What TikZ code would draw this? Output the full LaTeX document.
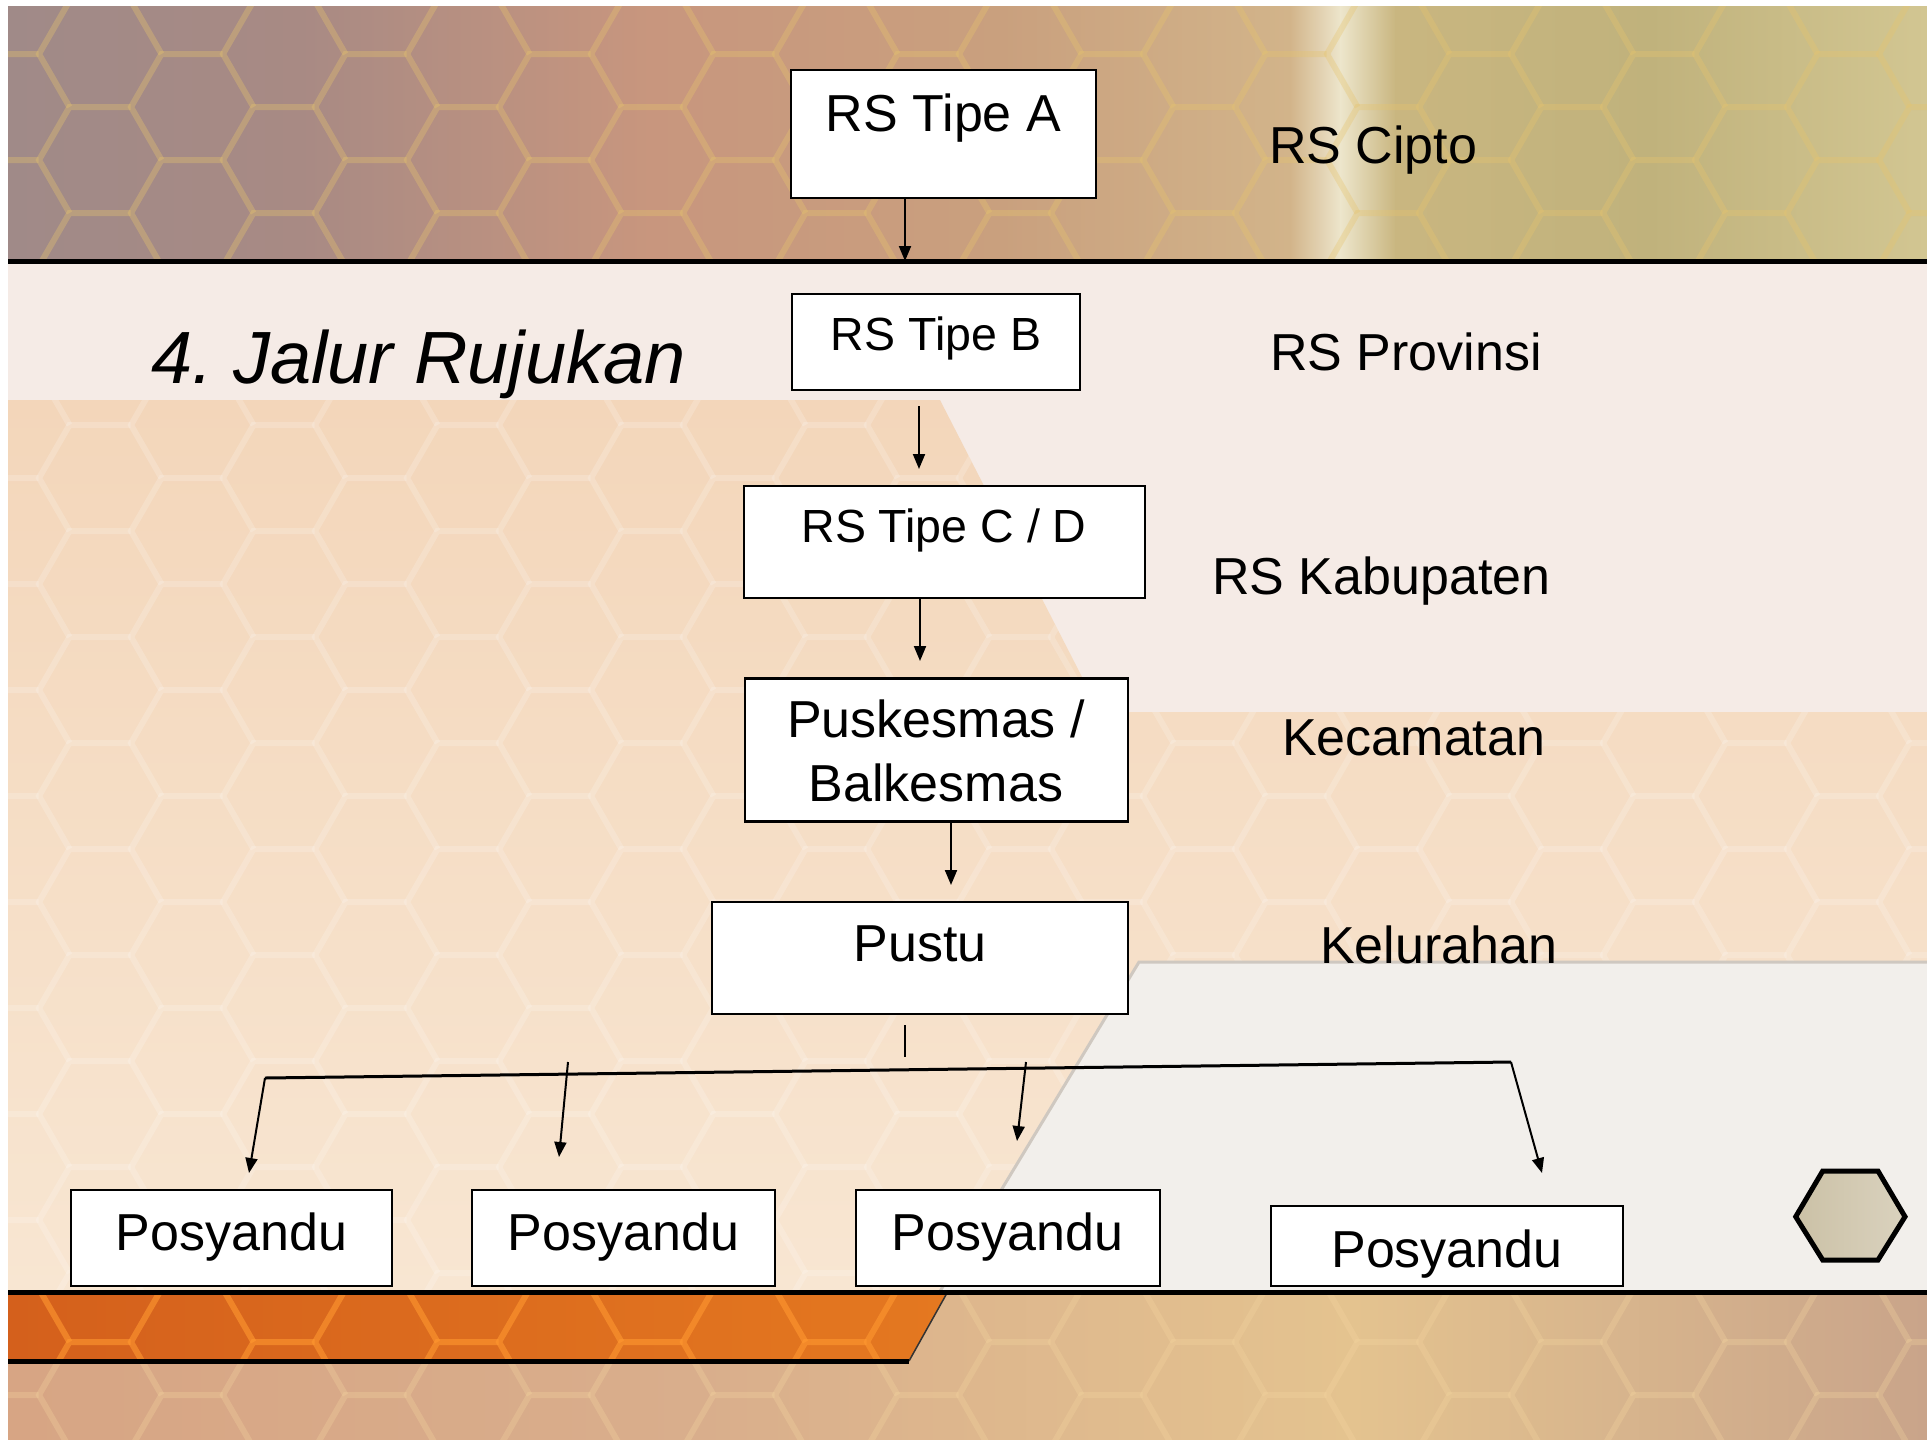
\documentclass[tikz,border=0pt]{standalone}
\usepackage{fontspec}
\setmainfont{Liberation Sans}
\usetikzlibrary{arrows.meta,calc}
\definecolor{midbase}{HTML}{F5EBE6}
\definecolor{peachtop}{HTML}{F3D6BA}
\definecolor{peachbot}{HTML}{F8E6D2}
\definecolor{greypara}{HTML}{F2EFEB}
\definecolor{greyedge}{HTML}{CFC8C0}
\definecolor{orleft}{HTML}{D4601C}
\definecolor{orright}{HTML}{E47820}
\definecolor{hexbeige}{HTML}{CBC1A6}
\definecolor{hexbeigeb}{HTML}{DAD2BE}
\newcommand{\myhoneycomb}[4]{%
  \foreach \k in {-1,...,21}{%
    \foreach \j in {#3,...,#4}{%
      \pgfmathsetmacro{\cx}{#1+92*\k}%
      \pgfmathsetmacro{\cy}{#2+106*\j+53*mod(abs(\k),2)}%
      \draw[shift={(\cx,\cy)}] (30.5,-53) -- (-30.5,-53) -- (-61,0) -- (-30.5,53);%
    }%
  }%
}
\begin{document}
\begin{tikzpicture}[x=1pt,y=-1pt,
  box/.style={draw=black,fill=white,line width=2.5pt,inner sep=0pt,rectangle},
  lab/.style={font=\fontsize{52}{64}\selectfont,inner sep=0pt,anchor=base,align=center},
  labsm/.style={font=\fontsize{46.5}{56}\selectfont,inner sep=0pt,anchor=base},
  side/.style={font=\fontsize{52}{64}\selectfont,inner sep=0pt,anchor=base west},
  arr/.style={line width=2pt,-{Triangle[length=15pt,width=12pt]}},
  plain/.style={line width=2pt}]
\useasboundingbox (0,0) rectangle (1927,1441);
\fill[white] (0,0) rectangle (1927,1441);
% ---------- middle area ----------
\fill[midbase] (8,261) rectangle (1927,1293);
\path[top color=peachtop,bottom color=peachbot] (8,400) -- (940,400) -- (1100,712) -- (1927,712) -- (1927,962) -- (1139,962) -- (939,1293) -- (8,1293) -- cycle;
\begin{scope}
  \clip (8,400) -- (940,400) -- (1100,712) -- (1927,712) -- (1927,962) -- (1139,962) -- (939,1293) -- (8,1293) -- cycle;
  \begin{scope}[draw=white,draw opacity=0.18,line width=6pt]
    \myhoneycomb{100}{54}{2}{12}
  \end{scope}
\end{scope}
\fill[greypara] (1139,962) -- (1927,962) -- (1927,1293) -- (939,1293) -- cycle;
\draw[greyedge,line width=3pt] (939,1293) -- (1139,962) -- (1927,962);
% ---------- top band ----------
\shade[left color={rgb,255:red,160;green,138;blue,136},right color={rgb,255:red,168;green,138;blue,132}] (8,6) rectangle (301,261);
\shade[left color={rgb,255:red,168;green,138;blue,132},right color={rgb,255:red,200;green,150;blue,126}] (300,6) rectangle (651,261);
\shade[left color={rgb,255:red,200;green,150;blue,126},right color={rgb,255:red,201;green,160;blue,126}] (650,6) rectangle (1001,261);
\shade[left color={rgb,255:red,201;green,160;blue,126},right color={rgb,255:red,210;green,180;blue,138}] (1000,6) rectangle (1291,261);
\shade[left color={rgb,255:red,210;green,180;blue,138},right color={rgb,255:red,237;green,230;blue,204}] (1290,6) rectangle (1341,261);
\shade[left color={rgb,255:red,237;green,230;blue,204},right color={rgb,255:red,201;green,182;blue,128}] (1340,6) rectangle (1396,261);
\shade[left color={rgb,255:red,201;green,182;blue,128},right color={rgb,255:red,192;green,178;blue,124}] (1395,6) rectangle (1651,261);
\shade[left color={rgb,255:red,192;green,178;blue,124},right color={rgb,255:red,210;green,198;blue,146}] (1650,6) rectangle (1927,261);
\begin{scope}
  \clip (8,6) rectangle (1927,259);
  \begin{scope}[draw={rgb,255:red,230;green,196;blue,110},draw opacity=0.35,line width=6pt]
    \myhoneycomb{100}{54}{-1}{3}
  \end{scope}
\end{scope}
\draw[line width=5pt] (8,261) -- (1927,261);
% ---------- bottom band ----------
\shade[left color={rgb,255:red,215;green,165;blue,132},right color={rgb,255:red,217;green,174;blue,140}] (8,1293) rectangle (701,1439);
\shade[left color={rgb,255:red,217;green,174;blue,140},right color={rgb,255:red,228;green,195;blue,143}] (700,1293) rectangle (1351,1439);
\shade[left color={rgb,255:red,228;green,195;blue,143},right color={rgb,255:red,201;green,164;blue,138}] (1350,1293) rectangle (1927,1439);
\begin{scope}
  \clip (8,1293) rectangle (1927,1439);
  \begin{scope}[draw={rgb,255:red,245;green,214;blue,160},draw opacity=0.3,line width=6pt]
    \myhoneycomb{100}{17}{11}{14}
  \end{scope}
\end{scope}
\path[left color=orleft,right color=orright] (8,1293) -- (947,1293) -- (909,1361) -- (8,1361) -- cycle;
\begin{scope}
  \clip (8,1293) -- (947,1293) -- (909,1361) -- (8,1361) -- cycle;
  \begin{scope}[draw={rgb,255:red,255;green,152;blue,48},draw opacity=0.6,line width=6pt]
    \myhoneycomb{100}{17}{11}{14}
  \end{scope}
\end{scope}
\draw[line width=1.5pt,black!80] (947,1293) -- (909,1361);
\draw[line width=5pt] (8,1361) -- (909,1361);
\draw[line width=5pt] (8,1292) -- (1927,1292);
% decorative hexagon
\path[left color=hexbeige,right color=hexbeigeb,draw=black,line width=5pt,line join=miter]
  (1795.7,1216.7) -- (1822.7,1171) -- (1878,1171) -- (1905,1216.7) -- (1878,1260) -- (1822.7,1260) -- cycle;
% ---------- boxes ----------
\node[box,minimum width=305pt,minimum height=128pt] (A) at (943.5,134) {};
\node[box,minimum width=288pt,minimum height=96pt] (B) at (936,342) {};
\node[box,minimum width=401pt,minimum height=112pt] (C) at (944.5,542) {};
\node[box,minimum width=383pt,minimum height=143pt] (P) at (936.5,750) {};
\node[box,minimum width=416pt,minimum height=112pt] (U) at (920,958) {};
\node[box,minimum width=321pt,minimum height=96pt] (Y1) at (231.5,1238) {};
\node[box,minimum width=303pt,minimum height=96pt] (Y2) at (623.5,1238) {};
\node[box,minimum width=304pt,minimum height=96pt] (Y3) at (1008,1238) {};
\node[box,minimum width=352pt,minimum height=80pt] (Y4) at (1447,1246) {};
% ---------- labels ----------
\node[lab] (tA) at (943.5,131) {RS Tipe A};
\node[labsm] (tBl) at (936,350) {RS Tipe B};
\node[labsm] (tCl) at (944,542) {RS Tipe C / D};
\node[lab] (tPl) at (936,801) {Puskesmas /\\Balkesmas};
\node[lab] (tUl) at (920,961) {Pustu};
\node[lab] (tY1) at (231.5,1250) {Posyandu};
\node[lab] (tY2) at (623.5,1250) {Posyandu};
\node[lab] (tY3) at (1007.5,1250) {Posyandu};
\node[lab] (tY4) at (1447,1267) {Posyandu};
\node[side] (s1) at (1269,163) {RS Cipto};
\node[side] (s2) at (1270,370) {RS Provinsi};
\node[side] (s3) at (1212,594) {RS Kabupaten};
\node[side] (s4) at (1282,755) {Kecamatan};
\node[side] (s5) at (1320,963) {Kelurahan};
\node[font=\fontsize{74}{88}\selectfont\itshape,inner sep=0pt,anchor=base west] (title) at (151,383) {4.\hspace{-7pt} Jalur Rujukan};
% ---------- connectors ----------
\coordinate (eA) at (905,261);
\draw[arr] (A.south -| eA) -- (eA);
\coordinate (sB) at (919,406);
\coordinate (eB) at (919,469);
\draw[arr] (sB) -- (eB);
\coordinate (eC) at (920,661);
\draw[arr] (C.south -| eC) -- (eC);
\coordinate (eP) at (951,885);
\draw[arr] (P.south -| eP) -- (eP);
\coordinate (u1) at (904.5,1025);
\coordinate (u2) at (904.5,1057);
\draw[plain] (u1) -- (u2);
\coordinate (bl) at (265,1078);
\coordinate (br) at (1511,1062);
\draw[line width=3pt] (bl) -- (br);
\coordinate (m2) at (568,1062);
\coordinate (m3) at (1026,1062);
\coordinate (e1) at (249,1173);
\coordinate (e2) at (559,1157);
\coordinate (e3) at (1017,1141);
\coordinate (e4) at (1542,1173);
\draw[arr] (bl) -- (e1);
\draw[arr] (m2) -- (e2);
\draw[arr] (m3) -- (e3);
\draw[arr] (br) -- (e4);
\end{tikzpicture}
\end{document}
